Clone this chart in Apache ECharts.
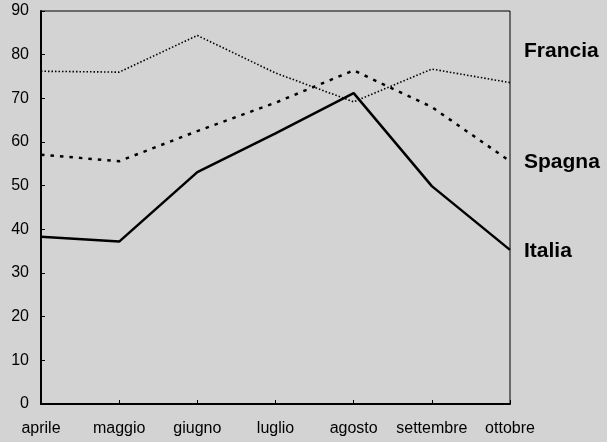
<!DOCTYPE html>
<html><head><meta charset="utf-8">
<script src="https://cdn.jsdelivr.net/npm/echarts@6/dist/echarts.min.js"></script>
<style>html,body{margin:0;padding:0;background:#d3d3d3;}#c{width:607px;height:442px;}</style>
</head><body><div id="c"></div>
<script>
const months = ['aprile','maggio','giugno','luglio','agosto','settembre','ottobre'];
const francia = [76.2, 76.0, 84.4, 75.8, 69.2, 76.7, 73.6];
const spagna = [57.1, 55.6, 62.5, 69.0, 76.4, 68.0, 55.6];
const italia = [38.3, 37.2, 53.1, 62.0, 71.2, 49.9, 35.3];
const yTicks = [0,10,20,30,40,50,60,70,80,90];

const FONT = 'Liberation Sans, Arial, sans-serif';
const chart = echarts.init(document.getElementById('c'));
const lbl = (name, dy) => ({show:true, formatter:name, fontFamily:FONT, fontSize:21, fontWeight:'bold', color:'#000', distance:14, offset:[0,dy]});
chart.setOption({
  backgroundColor:'#d3d3d3',
  animation:false,
  grid:{left:41, right:97, top:11, bottom:38, show:true, borderColor:'#000', borderWidth:1, backgroundColor:'transparent'},
  xAxis:{type:'category', data:months, boundaryGap:false,
    axisLine:{lineStyle:{color:'#000', width:2}},
    axisTick:{inside:true, length:4, interval:0, lineStyle:{color:'#000'}},
    axisLabel:{color:'#000', fontSize:16, fontFamily:FONT, margin:17, interval:0, hideOverlap:false}},
  yAxis:{type:'value', min:yTicks[0], max:yTicks[yTicks.length-1], interval:10,
    splitLine:{show:false},
    axisLine:{show:true, lineStyle:{color:'#000', width:2}},
    axisTick:{show:true, inside:true, length:4, lineStyle:{color:'#000'}},
    axisLabel:{color:'#000', fontSize:16, fontFamily:FONT, margin:12}},
  series:[
    {name:'Francia', type:'line', data:francia, symbol:'none', lineStyle:{color:'#000', width:1.6, type:[1.5,2]}, endLabel:lbl('Francia', -31)},
    {name:'Spagna', type:'line', data:spagna, symbol:'none', lineStyle:{color:'#000', width:2.5, type:[3.5,6]}, endLabel:lbl('Spagna', 1)},
    {name:'Italia', type:'line', data:italia, symbol:'none', lineStyle:{color:'#000', width:2.5}, endLabel:lbl('Italia', 1)}
  ]
});
</script></body></html>
